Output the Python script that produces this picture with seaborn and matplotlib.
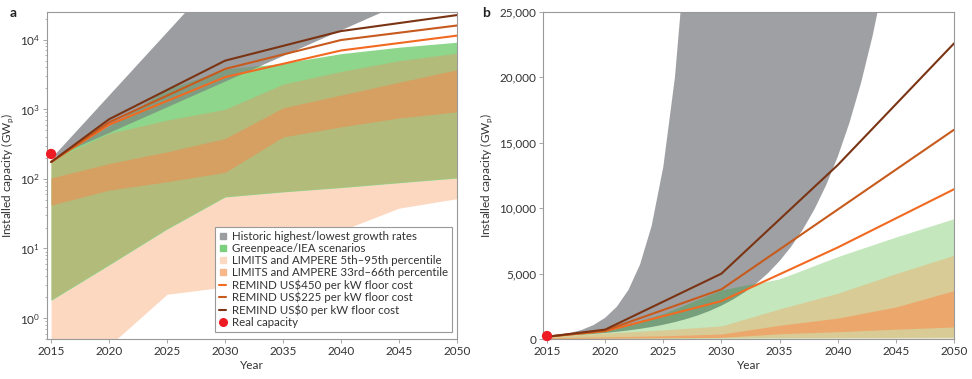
import numpy as np
import seaborn as sns
import matplotlib.pyplot as plt
from matplotlib.lines import Line2D
from matplotlib.ticker import FuncFormatter

# scenario years and bands (GWp)
years = [2015, 2020, 2025, 2030, 2035, 2040, 2045, 2050]
peach_lo = [0.2, 0.4, 2.2, 2.8, 7, 18, 38, 52]
peach_hi = [185, 450, 700, 1000, 2300, 3500, 5000, 6400]
orange_lo = [42, 69, 91, 124, 400, 560, 750, 920]
orange_hi = [103, 166, 245, 380, 1050, 1600, 2450, 3700]
green_lo = [1.8, 5.8, 19, 55, 65, 75, 88, 103]
green_hi = [185, 560, 1900, 3700, 4600, 6300, 7800, 9200]

# historic highest / lowest growth envelope
hist_years = list(range(2015, 2045))
hist_lo = [200, 237, 281, 333, 394, 467, 554, 656, 778, 921, 1092, 1294, 1533,
           1817, 2153, 2551, 3023, 3582, 4245, 5030, 5961, 7064, 8371, 9920,
           11755, 13930, 16507, 19560, 23180, 27466]
hist_hi = [200, 304, 462, 702, 1067, 1622, 2466, 3748, 5697, 8660, 13163,
           20008, 30412] + [1e6] * 17

# REMIND runs
remind_years = [2015, 2020, 2030, 2040, 2050]
remind_450 = [175, 600, 2900, 7000, 11450]
remind_225 = [175, 650, 3800, 9900, 16000]
remind_0 = [175, 720, 5000, 13300, 22600]

real_year = [2015]
real_cap = [228]

sns.set_theme(style="ticks")
plt.rcParams["font.family"] = ["Lato", "DejaVu Sans"]
plt.rcParams["axes.edgecolor"] = "#999999"
plt.rcParams["axes.linewidth"] = 0.8
plt.rcParams["xtick.color"] = "#999999"
plt.rcParams["ytick.color"] = "#999999"
plt.rcParams["xtick.labelcolor"] = "#333333"
plt.rcParams["ytick.labelcolor"] = "#333333"

c_450, c_225, c_0 = "#f26a21", "#c75a1d", "#7a3414"

fig = plt.figure(figsize=(9.72, 3.79), dpi=100)
ax1 = fig.add_axes([0.0484, 0.1055, 0.4218, 0.8628])
ax2 = fig.add_axes([0.5586, 0.1055, 0.4229, 0.8628])
# set scales before drawing the bands
ax1.set_yscale("log")
ax1.set_ylim(0.5, 25000)
ax2.set_ylim(0, 25000)

palettes = {
    ax1: dict(gray="#9c9da0", peach="#fdd8c0", orange="#f5b27a", green="#8dd68c",
              olive="#b3bb7b", obrown="#d5a062", dgreen="#7f9c82"),
    ax2: dict(gray="#9fa0a3", peach="#fde3d3", orange="#f5b27a", green="#c4e7bd",
              olive="#d9cb95", obrown="#eca86c", dgreen="#76a07c"),
}

for ax, pal in palettes.items():
    ax.fill_between(hist_years, hist_lo, hist_hi, color=pal["gray"], lw=0, zorder=1)
    ax.fill_between(years, peach_lo, peach_hi, color=pal["peach"], lw=0, zorder=1.1)
    ax.fill_between(years, orange_lo, orange_hi, color=pal["orange"], lw=0, zorder=1.2)
    g = ax.fill_between(years, green_lo, green_hi, color=pal["green"], lw=0, zorder=1.3)
    gpath = g.get_paths()[0]
    # overlaps with the Greenpeace/IEA band
    for lo, hi, key, z, xs in [(peach_lo, peach_hi, "olive", 1.4, years),
                               (orange_lo, orange_hi, "obrown", 1.5, years),
                               (hist_lo, hist_hi, "dgreen", 1.6, hist_years)]:
        ov = ax.fill_between(xs, lo, hi, color=pal[key], lw=0, zorder=z)
        ov.set_clip_path(gpath, ax.transData)

    for vals, col in [(remind_450, c_450), (remind_225, c_225), (remind_0, c_0)]:
        sns.lineplot(x=remind_years, y=vals, ax=ax, color=col, lw=1.5, zorder=3)
    sns.scatterplot(x=real_year, y=real_cap, ax=ax, color="#ed1c24", s=55,
                    edgecolor="none", zorder=4, clip_on=False)

    ax.set_xlim(2014.65, 2050)
    ax.set_xticks(range(2015, 2051, 5))
    ax.tick_params(labelsize=8.5, length=3, width=0.6, pad=2)
    ax.tick_params(which="minor", length=1.8, width=0.5)
    ax.set_xlabel("Year", fontsize=8.5, color="#333333", labelpad=2)
    ax.set_ylabel(r"Installed capacity (GW$_\mathregular{p}$)", fontsize=8.5,
                  color="#333333", labelpad=3)

ax2.set_yticks(range(0, 25001, 5000))
ax2.yaxis.set_major_formatter(FuncFormatter(lambda v, p: f"{v:,.0f}"))

handles = [
    Line2D([], [], marker="s", ls="none", color="#9c9da0", markersize=4.8),
    Line2D([], [], marker="s", ls="none", color="#7ccf7c", markersize=4.8),
    Line2D([], [], marker="s", ls="none", color="#fcd9c2", markersize=4.8),
    Line2D([], [], marker="s", ls="none", color="#f6b88a", markersize=4.8),
    Line2D([], [], color=c_450, lw=1.5),
    Line2D([], [], color=c_225, lw=1.5),
    Line2D([], [], color=c_0, lw=1.5),
    Line2D([], [], marker="o", ls="none", color="#ed1c24", markersize=5.5),
]
labels = [
    "Historic highest/lowest growth rates",
    "Greenpeace/IEA scenarios",
    "LIMITS and AMPERE 5th\u201395th percentile",
    "LIMITS and AMPERE 33rd\u201366th percentile",
    "REMIND US$450 per kW floor cost",
    "REMIND US$225 per kW floor cost",
    "REMIND US$0 per kW floor cost",
    "Real capacity",
]
leg = ax1.legend(handles, labels, loc="lower right", bbox_to_anchor=(0.988, 0.021),
                 borderaxespad=0, fontsize=8.3, handlelength=0.6, handletextpad=0.5,
                 labelspacing=0.1, borderpad=0.35, fancybox=False, framealpha=1,
                 edgecolor="#999999")
leg.get_frame().set_linewidth(0.8)
for t in leg.get_texts():
    t.set_color("#333333")
leg.set_zorder(5)

fig.text(0.010, 0.955, "a", fontsize=10, fontweight="bold", color="#222222")
fig.text(0.496, 0.955, "b", fontsize=10, fontweight="bold", color="#222222")

fig.savefig("out.png", dpi=100)
